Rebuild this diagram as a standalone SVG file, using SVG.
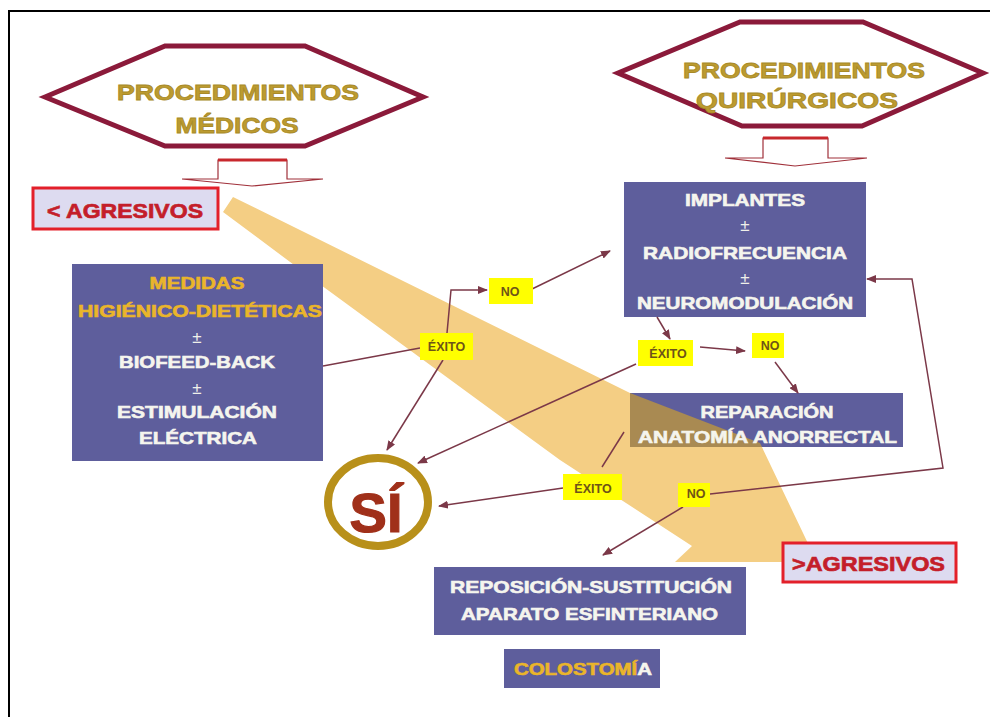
<svg xmlns="http://www.w3.org/2000/svg" width="990" height="717" viewBox="0 0 990 717">
<style>
.hex{fill:#fff;stroke:#8B1A3A;stroke-width:5;stroke-linejoin:miter}
.hext{font-family:"Liberation Sans",Arial,sans-serif;font-weight:bold;font-size:22px;fill:#BC9B30;stroke:#A88A28;stroke-width:0.8;text-anchor:middle}
.dn{fill:#fff;stroke:#A0303A;stroke-width:1.2}
.dntop{stroke:#C8282D;stroke-width:3}
.box{fill:#5E5E9C}
.bt{font-family:"Liberation Sans",Arial,sans-serif;font-weight:bold;font-size:17px;fill:#F5F5EE;stroke:#F5F5EE;stroke-width:0.6;text-anchor:middle}
.gold{fill:#EAB52A;stroke:#EAB52A}
.pm{font-family:"Liberation Sans",Arial,sans-serif;font-size:17px;fill:#F0F0EA;text-anchor:middle}
.agr{fill:#DDDBF0;stroke:#E3202A;stroke-width:3}
.agrt{font-family:"Liberation Sans",Arial,sans-serif;font-weight:bold;font-size:21px;fill:#C41E2A;stroke:#C41E2A;stroke-width:0.7}
.lab{fill:#FFFF00}
.labt{font-family:"Liberation Sans",Arial,sans-serif;font-weight:bold;font-size:12.5px;fill:#6E5418;text-anchor:middle}
.con{fill:none;stroke:#7B3848;stroke-width:1.5}
.arr{marker-end:url(#ah)}
</style>
<defs>
<marker id="ah" markerUnits="userSpaceOnUse" markerWidth="10" markerHeight="8" refX="9" refY="4" orient="auto">
<path d="M0,0 L10,4 L0,8 Z" fill="#7B3848"/>
</marker>
</defs>
<rect x="0" y="0" width="990" height="717" fill="#fff"/>
<path d="M9,717 V11 H990" fill="none" stroke="#000" stroke-width="2"/>

<g id="band">
<polygon points="233,197 630,393 760,443 814,556 790,562 675,562 692,546 560,460 325,288 223,212" fill="#F4CE84"/>
</g>

<g id="hex-medicos">
<polygon class="hex" points="45,97 165,46 305,46 423,97 305,146 165,146"/>
<text class="hext" x="238" y="100" textLength="242" lengthAdjust="spacingAndGlyphs">PROCEDIMIENTOS</text>
<text class="hext" x="237" y="133" textLength="123" lengthAdjust="spacingAndGlyphs">MÉDICOS</text>
</g>
<g id="down-medicos">
<path class="dn" d="M218,179 V160 H287 V179 H323 L252,186 L182,179 Z"/>
<line class="dntop" x1="218" y1="160" x2="287" y2="160"/>
</g>

<g id="hex-quirurgicos">
<polygon class="hex" points="618,73 740,22 863,22 983,73 862,126 742,126"/>
<text class="hext" x="804" y="78" textLength="242" lengthAdjust="spacingAndGlyphs">PROCEDIMIENTOS</text>
<text class="hext" x="797" y="108" textLength="202" lengthAdjust="spacingAndGlyphs">QUIRÚRGICOS</text>
</g>
<g id="down-quirurgicos">
<path class="dn" d="M763,158 V138 H828 V158 H867 L795,166 L725,158 Z"/>
<line class="dntop" x1="763" y1="138" x2="828" y2="138"/>
</g>

<g id="menos-agresivos">
<rect class="agr" x="33" y="188" width="185" height="41"/>
<text class="agrt" x="47" y="218" textLength="156" lengthAdjust="spacingAndGlyphs">&lt; AGRESIVOS</text>
</g>

<g id="mas-agresivos">
<rect class="agr" x="783" y="543" width="173" height="39"/>
<text class="agrt" x="792" y="571" textLength="153" lengthAdjust="spacingAndGlyphs">&gt;AGRESIVOS</text>
</g>

<g id="medidas">
<rect class="box" x="72" y="264" width="251" height="197"/>
<text class="bt gold" x="197" y="289" textLength="95" lengthAdjust="spacingAndGlyphs">MEDIDAS</text>
<text class="bt gold" x="200" y="317" textLength="244" lengthAdjust="spacingAndGlyphs">HIGIÉNICO-DIETÉTICAS</text>
<text class="pm" x="197" y="343">±</text>
<text class="bt" x="197" y="368" textLength="156" lengthAdjust="spacingAndGlyphs">BIOFEED-BACK</text>
<text class="pm" x="197" y="394">±</text>
<text class="bt" x="197" y="418" textLength="160" lengthAdjust="spacingAndGlyphs">ESTIMULACIÓN</text>
<text class="bt" x="198" y="444" textLength="118" lengthAdjust="spacingAndGlyphs">ELÉCTRICA</text>
</g>

<g id="implantes">
<rect class="box" x="624" y="182" width="242" height="135"/>
<text class="bt" x="745" y="206" textLength="120" lengthAdjust="spacingAndGlyphs">IMPLANTES</text>
<text class="pm" x="745" y="231">±</text>
<text class="bt" x="745" y="259" textLength="204" lengthAdjust="spacingAndGlyphs">RADIOFRECUENCIA</text>
<text class="pm" x="745" y="284">±</text>
<text class="bt" x="745" y="309" textLength="216" lengthAdjust="spacingAndGlyphs">NEUROMODULACIÓN</text>
</g>

<g id="reparacion">
<rect class="box" x="630" y="393" width="273" height="54"/>
<polygon points="630,393 760,443 762,447 630,447" fill="#A98A52"/>
<text class="bt" x="767" y="418" textLength="133" lengthAdjust="spacingAndGlyphs">REPARACIÓN</text>
<text class="bt" x="767.5" y="443" textLength="259" lengthAdjust="spacingAndGlyphs">ANATOMÍA ANORRECTAL</text>
</g>

<g id="reposicion">
<rect class="box" x="434" y="567" width="312" height="68"/>
<text class="bt" x="591" y="593" textLength="282" lengthAdjust="spacingAndGlyphs">REPOSICIÓN-SUSTITUCIÓN</text>
<text class="bt" x="589.5" y="620" textLength="257" lengthAdjust="spacingAndGlyphs">APARATO ESFINTERIANO</text>
</g>

<g id="colostomia">
<rect class="box" x="504" y="649" width="156" height="39"/>
<text class="bt" x="583" y="675" textLength="138" lengthAdjust="spacingAndGlyphs"><tspan class="gold">COLOSTOMÍ</tspan>A</text>
</g>

<g id="si">
<ellipse cx="378" cy="502" rx="50" ry="44" fill="#fff" stroke="#B8901A" stroke-width="8"/>
<text x="376" y="532" font-family="Liberation Sans, Arial, sans-serif" font-weight="bold" font-size="56" fill="#A0301A" stroke="#A0301A" stroke-width="1.2" text-anchor="middle">SÍ</text>
</g>

<g id="connectors">
<path class="con" d="M323,366 L420,348"/>
<path class="con arr" d="M447,333 L451,290 L487,290"/>
<path class="con arr" d="M530,290 L610,251"/>
<path class="con arr" d="M443,360 L387,450"/>
<path class="con arr" d="M636,364 L418,463"/>
<path class="con arr" d="M657,317 L670,339"/>
<path class="con arr" d="M700,347 L745,351"/>
<path class="con arr" d="M775,362 L798,393"/>
<path class="con" d="M624,432 L602,467"/>
<path class="con arr" d="M563,488 L439,506"/>
<path class="con arr" d="M710,494 L943,468 L912,279 L867,279"/>
<path class="con arr" d="M683,507 L603,555"/>
</g>

<g id="label-exito1">
<rect class="lab" x="420" y="333" width="53" height="27"/>
<text class="labt" x="446.5" y="351">ÉXITO</text>
</g>
<g id="label-no1">
<rect class="lab" x="489" y="278" width="44" height="26"/>
<text class="labt" x="510" y="296">NO</text>
</g>
<g id="label-exito2">
<rect class="lab" x="638" y="340" width="55" height="26"/>
<text class="labt" x="668" y="358">ÉXITO</text>
</g>
<g id="label-no2">
<rect class="lab" x="752" y="333" width="32" height="25"/>
<text class="labt" x="770" y="350">NO</text>
</g>
<g id="label-exito3">
<rect class="lab" x="563" y="474" width="59" height="26"/>
<text class="labt" x="593" y="493">ÉXITO</text>
</g>
<g id="label-no3">
<rect class="lab" x="678" y="483" width="32" height="24"/>
<text class="labt" x="696" y="498">NO</text>
</g>
</svg>
